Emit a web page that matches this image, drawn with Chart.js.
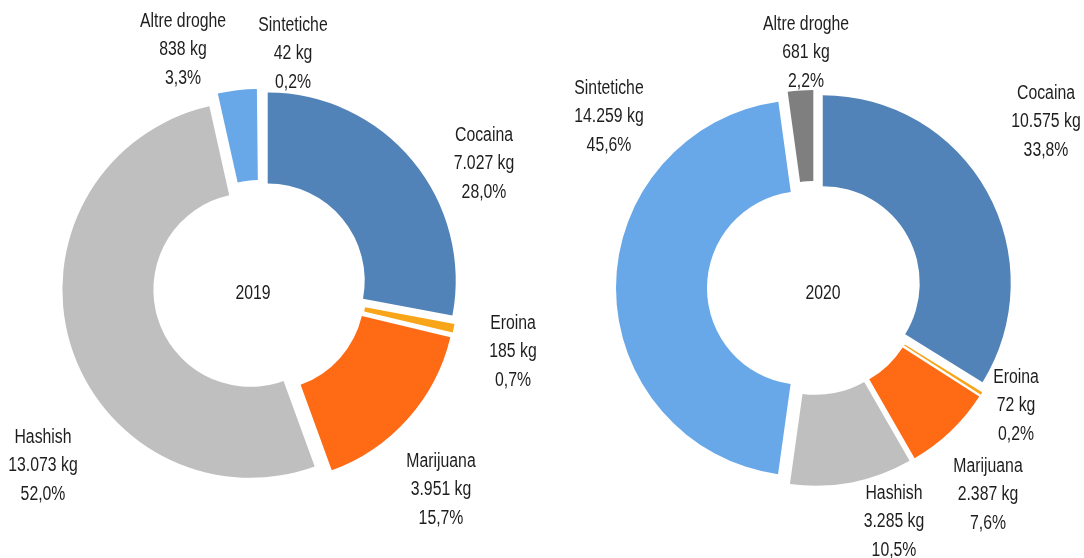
<!DOCTYPE html>
<html><head><meta charset="utf-8">
<script src="https://cdn.jsdelivr.net/npm/chart.js@4"></script>
<style>
html,body{margin:0;padding:0;background:#fff;}
#wrap{position:relative;width:1084px;height:558px;overflow:hidden;}
canvas{position:absolute;left:0;top:0;}
</style>
</head><body>
<div id="wrap">
<canvas id="c2019" width="1084" height="558"></canvas>
<canvas id="c2020" width="1084" height="558"></canvas>
</div>
<script>
// ---- data ----
const categories2019 = ['Cocaina', 'Eroina', 'Marijuana', 'Hashish', 'Altre droghe', 'Sintetiche'];
const values2019 = [7027, 185, 3951, 13073, 838, 42];
const percent2019 = ['28,0%', '0,7%', '15,7%', '52,0%', '3,3%', '0,2%'];

const categories2020 = ['Cocaina', 'Eroina', 'Marijuana', 'Hashish', 'Sintetiche', 'Altre droghe'];
const values2020 = [10575, 72, 2387, 3285, 14259, 681];
const percent2020 = ['33,8%', '0,2%', '7,6%', '10,5%', '45,6%', '2,2%'];

// ---- styles / layout ----
const colors2019 = ['#5283b8', '#f9a51a', '#ff6a14', '#bfbfbf', '#68a7e8', '#ffffff'];
const colors2020 = ['#5283b8', '#f9a51a', '#ff6a14', '#bfbfbf', '#68a7e8', '#7f7f7f'];
// label anchor (x center, y of first line) absolute positions
const labelPos2019 = [[484,135],[513,323],[441,461],[43,437],[183,21],[293,25]];
const labelPos2020 = [[1046,93],[1016,377],[988,466],[894,493],[609,88],[806,24]];
const EXPLODE = 10;
const FONT = '20px "Liberation Sans", Arial, sans-serif';
const SCALE_X = 0.79;
const LINE_H = 28.5;

function fmtKg(v){
  return String(v).replace(/\B(?=(\d{3})+(?!\d))/g, '.') + ' kg';
}

const explodePlugin = {
  id: 'explode',
  beforeDatasetDraw(chart, args){
    const ctx = chart.ctx;
    args.meta.data.forEach(arc => {
      const half = (arc.startAngle + arc.endAngle) / 2;
      ctx.save();
      ctx.translate(Math.cos(half) * EXPLODE, Math.sin(half) * EXPLODE);
      arc.draw(ctx);
      ctx.restore();
    });
    return false;
  }
};

function drawText(ctx, t, x, y){
  ctx.save();
  ctx.translate(x, y);
  ctx.scale(SCALE_X, 1);
  ctx.fillText(t, 0, 0);
  ctx.restore();
}

function makeLabelPlugin(cats, vals, pcts, pos, title, titlePos){
  return {
    id: 'labels',
    afterDraw(chart){
      const ctx = chart.ctx;
      ctx.save();
      ctx.font = FONT;
      ctx.fillStyle = '#1e1e1e';
      ctx.textAlign = 'center';
      ctx.textBaseline = 'middle';
      cats.forEach((c, i) => {
        const [x, y] = pos[i];
        drawText(ctx, c, x, y);
        drawText(ctx, fmtKg(vals[i]), x, y + LINE_H);
        drawText(ctx, pcts[i], x, y + 2 * LINE_H);
      });
      drawText(ctx, title, titlePos[0], titlePos[1]);
      ctx.restore();
    }
  };
}

function makeChart(id, cats, vals, pcts, colors, pos, title, titlePos, padding){
  return new Chart(document.getElementById(id), {
    type: 'doughnut',
    data: {
      labels: cats,
      datasets: [{
        data: vals,
        backgroundColor: colors,
        borderWidth: 0,
        hoverOffset: 0
      }]
    },
    options: {
      responsive: false,
      devicePixelRatio: 1,
      animation: false,
      cutout: '51.6%',
      layout: { padding: padding },
      plugins: { legend: { display: false }, tooltip: { enabled: false } },
      events: []
    },
    plugins: [explodePlugin, makeLabelPlugin(cats, vals, pcts, pos, title, titlePos)]
  });
}

makeChart('c2019', categories2019, values2019, percent2019, colors2019, labelPos2019,
  '2019', [253, 293], { left: 72, right: 636, top: 99, bottom: 83 });
makeChart('c2020', categories2020, values2020, percent2020, colors2020, labelPos2020,
  '2020', [823, 293], { left: 626, right: 82, top: 100, bottom: 82 });
</script>
</body></html>
